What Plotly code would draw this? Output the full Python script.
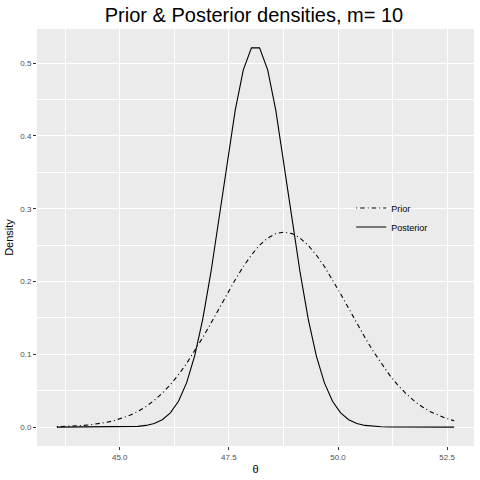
import plotly.graph_objects as go

theta = [43.560, 43.746, 43.931, 44.117, 44.303, 44.489, 44.674, 44.860, 45.046, 45.231,
         45.417, 45.603, 45.789, 45.974, 46.160, 46.346, 46.531, 46.717, 46.903, 47.089,
         47.274, 47.460, 47.646, 47.831, 48.017, 48.203, 48.389, 48.574, 48.760, 48.946,
         49.131, 49.317, 49.503, 49.689, 49.874, 50.060, 50.246, 50.431, 50.617, 50.803,
         50.989, 51.174, 51.360, 51.546, 51.731, 51.917, 52.103, 52.289, 52.474, 52.660]

prior = [0.00060, 0.00092, 0.00139, 0.00207, 0.00304, 0.00438, 0.00621, 0.00868, 0.01194, 0.01617,
         0.02156, 0.0283, 0.0366, 0.0466, 0.0583, 0.0720, 0.0874, 0.1045, 0.1231, 0.1427,
         0.1629, 0.1830, 0.2025, 0.2206, 0.2365, 0.2498, 0.2597, 0.2658, 0.2679, 0.2658,
         0.2597, 0.2498, 0.2365, 0.2206, 0.2025, 0.1830, 0.1629, 0.1427, 0.1231, 0.1045,
         0.0874, 0.0720, 0.0583, 0.0466, 0.0366, 0.0283, 0.02156, 0.01617, 0.01194, 0.00868]

posterior = [0.0, 0.0, 0.0, 0.0, 0.000001, 0.000005, 0.000019, 0.000056, 0.000155, 0.000403,
             0.000987, 0.00228, 0.00495, 0.01013, 0.01953, 0.0355, 0.0607, 0.0979, 0.1487, 0.2128,
             0.2867, 0.3641, 0.4355, 0.4908, 0.5210, 0.5210, 0.4908, 0.4355, 0.3641, 0.2867,
             0.2128, 0.1487, 0.0979, 0.0607, 0.0355, 0.01953, 0.01013, 0.00495, 0.00228, 0.000987,
             0.000403, 0.000155, 0.000056, 0.000019, 0.000005, 0.000001, 0.0, 0.0, 0.0, 0.0]

series_names = ["Prior", "Posterior"]
x_ticks = [45.0, 47.5, 50.0, 52.5]
y_ticks = [0.0, 0.1, 0.2, 0.3, 0.4, 0.5]

FONT = "Liberation Sans, Arial, Helvetica, sans-serif"

fig = go.Figure()
fig.add_trace(go.Scatter(x=theta, y=prior, mode="lines", name=series_names[0],
                         line=dict(color="black", width=1.1, dash="1px,3px,4.5px,3px")))
fig.add_trace(go.Scatter(x=theta, y=posterior, mode="lines", name=series_names[1],
                         line=dict(color="black", width=1.1)))

fig.update_layout(
    width=480, height=480,
    margin=dict(l=37, r=6, t=29, b=34),
    paper_bgcolor="white", plot_bgcolor="#EBEBEB",
    font=dict(family=FONT, color="black"),
    title=dict(text="Prior & Posterior densities, m= 10", x=254 / 480, xanchor="center",
               y=1 - 14.5 / 480, yanchor="middle", font=dict(size=20, color="black")),
    legend=dict(x=0.719, y=0.6055, xanchor="left", yanchor="top", bgcolor="rgba(0,0,0,0)",
                font=dict(size=9, color="black"), tracegroupgap=0, itemwidth=30),
    showlegend=True,
)
fig.update_xaxes(
    range=[43.105, 53.115], tickvals=x_ticks, tickformat=".1f",
    showgrid=True, gridcolor="white", gridwidth=1.1, zeroline=False,
    minor=dict(showgrid=True, gridcolor="white", gridwidth=0.55, dtick=1.25, tick0=43.75),
    ticks="outside", ticklen=3, tickcolor="#333333", tickwidth=1,
    tickfont=dict(size=8, color="#4D4D4D"),
    title=dict(text="θ", font=dict(size=11, color="black"), standoff=4),
    showline=False,
)
fig.update_yaxes(
    range=[-0.026, 0.547], tickvals=y_ticks, tickformat=".1f",
    showgrid=True, gridcolor="white", gridwidth=1.1, zeroline=False,
    minor=dict(showgrid=True, gridcolor="white", gridwidth=0.55, dtick=0.05, tick0=0.05),
    ticks="outside", ticklen=3, tickcolor="#333333", tickwidth=1,
    tickfont=dict(size=8, color="#4D4D4D"),
    title=dict(text="Density", font=dict(size=11, color="black"), standoff=4),
    showline=False,
)

fig.write_html("out.html", config={"displayModeBar": False},
               post_script="document.body.style.margin='0';")
